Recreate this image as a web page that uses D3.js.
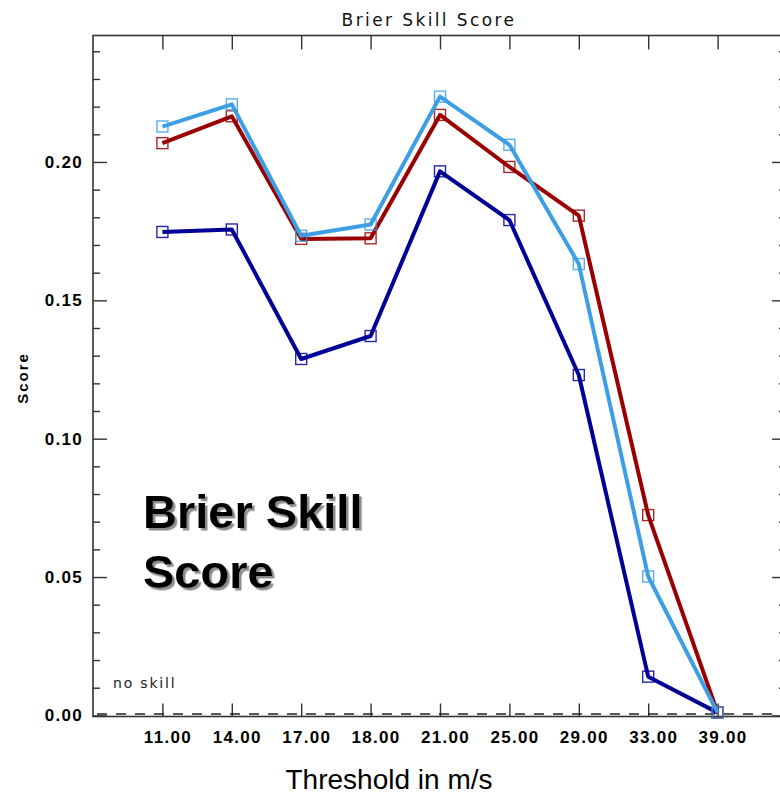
<!DOCTYPE html>
<html>
<head>
<meta charset="utf-8">
<script src="https://cdn.jsdelivr.net/npm/d3@7"></script>
<style>
  html, body { margin: 0; padding: 0; background: #fff; }
  svg { display: block; }
</style>
</head>
<body>
<svg id="chart" width="780" height="796">
  <defs>
    <filter id="shadow" x="-10%" y="-20%" width="130%" height="150%">
      <feDropShadow dx="2.5" dy="2.5" stdDeviation="0.6" flood-color="#8c8c8c" flood-opacity="1"/>
    </filter>
  </defs>
</svg>
<script>
// Wind-speed thresholds (m/s) shown along the x axis
const thresholds = ["11.00", "14.00", "17.00", "18.00", "21.00", "25.00", "29.00", "33.00", "39.00"];

// Brier Skill Score for each forecast system
const seriesNavy = [0.1747, 0.1756, 0.1288, 0.1371, 0.1966, 0.1790, 0.1230, 0.0140, 0.0010];
const seriesRed  = [0.2068, 0.2165, 0.1722, 0.1724, 0.2170, 0.1982, 0.1806, 0.0724, 0.0010];
const seriesSky  = [0.2128, 0.2208, 0.1733, 0.1774, 0.2236, 0.2062, 0.1631, 0.0502, 0.0010];

// Axis ticks
const yMajorTicks = [0.00, 0.05, 0.10, 0.15, 0.20];
const yMinorTicks = [0.01, 0.02, 0.03, 0.04, 0.06, 0.07, 0.08, 0.09, 0.11, 0.12, 0.13, 0.14,
                     0.16, 0.17, 0.18, 0.19, 0.21, 0.22, 0.23, 0.24];
const yRange = [-0.0004, 0.2457];

const series = [
  { name: "navy", values: seriesNavy, color: "#000096" },
  { name: "red",  values: seriesRed,  color: "#9a0000" },
  { name: "sky",  values: seriesSky,  color: "#3c9fe6" }
];

const svg = d3.select("#chart");
const box = { left: 93, right: 787, top: 35.5, bottom: 716.5 };

// x: category index 0..10, thresholds at 1..9
const x = d3.scaleLinear().domain([0, thresholds.length + 1]).range([box.left, box.right]);
const y = d3.scaleLinear().domain(yRange).range([box.bottom, box.top]);

const axisColor = "#333";
const tickFont = "'Liberation Sans', Arial, sans-serif";

// Plot frame
svg.append("rect")
  .attr("x", box.left).attr("y", box.top)
  .attr("width", box.right - box.left).attr("height", box.bottom - box.top)
  .attr("fill", "none").attr("stroke", axisColor).attr("stroke-width", 1.6);

// Left y axis (labels + major/minor ticks)
const yLeft = d3.axisLeft(y).tickValues(yMajorTicks).tickSize(-14).tickPadding(10)
  .tickFormat(d3.format(".2f"));
const gL = svg.append("g").attr("transform", `translate(${box.left},0)`).call(yLeft);
gL.select(".domain").remove();
gL.selectAll(".tick line").attr("stroke", axisColor).attr("stroke-width", 1.4);
gL.selectAll(".tick text")
  .attr("font-family", tickFont).attr("font-size", 17).attr("font-weight", "bold")
  .attr("letter-spacing", 1.3).attr("fill", "#000");

const yLeftMinor = d3.axisLeft(y).tickValues(yMinorTicks).tickSize(-7).tickFormat("");
const gLm = svg.append("g").attr("transform", `translate(${box.left},0)`).call(yLeftMinor);
gLm.select(".domain").remove();
gLm.selectAll(".tick line").attr("stroke", axisColor).attr("stroke-width", 1.4);

// Right y axis (ticks only)
const yRight = d3.axisRight(y).tickValues(yMajorTicks).tickSize(-15).tickFormat("");
const gR = svg.append("g").attr("transform", `translate(${box.right},0)`).call(yRight);
gR.select(".domain").remove();
gR.selectAll(".tick line").attr("stroke", axisColor).attr("stroke-width", 1.4);

const yRightMinor = d3.axisRight(y).tickValues(yMinorTicks).tickSize(-8).tickFormat("");
const gRm = svg.append("g").attr("transform", `translate(${box.right},0)`).call(yRightMinor);
gRm.select(".domain").remove();
gRm.selectAll(".tick line").attr("stroke", axisColor).attr("stroke-width", 1.4);

// Bottom x axis with threshold labels
const idx = thresholds.map((_, i) => i + 1);
const xBottom = d3.axisBottom(x).tickValues(idx).tickSize(-13).tickPadding(14)
  .tickFormat(i => thresholds[i - 1]);
const gB = svg.append("g").attr("transform", `translate(0,${box.bottom})`).call(xBottom);
gB.select(".domain").remove();
gB.selectAll(".tick line").attr("stroke", axisColor).attr("stroke-width", 1.4);
gB.selectAll(".tick text")
  .attr("font-family", tickFont).attr("font-size", 17).attr("font-weight", "bold")
  .attr("letter-spacing", 1.3).attr("fill", "#000").attr("dx", 5);

// Top x axis (ticks only)
const xTop = d3.axisTop(x).tickValues(idx).tickSize(-14).tickFormat("");
const gT = svg.append("g").attr("transform", `translate(0,${box.top})`).call(xTop);
gT.select(".domain").remove();
gT.selectAll(".tick line").attr("stroke", axisColor).attr("stroke-width", 1.4);

// Zero-skill reference line
svg.append("line")
  .attr("x1", box.left).attr("x2", box.right)
  .attr("y1", y(0) - 1.5).attr("y2", y(0) - 1.5)
  .attr("stroke", "#222").attr("stroke-width", 1.5)
  .attr("stroke-dasharray", "10,9").attr("stroke-dashoffset", -4);

svg.append("text")
  .attr("x", 113).attr("y", 688)
  .attr("font-family", "'DejaVu Sans', sans-serif").attr("font-size", 14)
  .attr("letter-spacing", 1.8).attr("fill", "#222")
  .text("no skill");

// Series lines and open square markers
const line = d3.line().x((d, i) => x(i + 1)).y(d => y(d));
series.forEach(s => {
  const g = svg.append("g").attr("class", "series-" + s.name);
  g.append("path")
    .attr("d", line(s.values))
    .attr("fill", "none").attr("stroke", s.color)
    .attr("stroke-width", 4).attr("stroke-linejoin", "round");
  g.selectAll("rect").data(s.values).join("rect")
    .attr("x", (d, i) => x(i + 1) - 5.5).attr("y", d => y(d) - 5.5)
    .attr("width", 11).attr("height", 11)
    .attr("fill", "none").attr("stroke", s.color).attr("stroke-width", 1.4)
    .attr("opacity", 0.85);
});

// Title
svg.append("text")
  .attr("x", 429).attr("y", 26).attr("text-anchor", "middle")
  .attr("font-family", "'DejaVu Sans', sans-serif").attr("font-size", 17)
  .attr("letter-spacing", 2.4).attr("fill", "#111")
  .text("Brier Skill Score");

// Y axis title
svg.append("text")
  .attr("transform", "translate(28,378) rotate(-90)")
  .attr("text-anchor", "middle")
  .attr("font-family", tickFont).attr("font-size", 15).attr("font-weight", "bold")
  .attr("letter-spacing", 2).attr("fill", "#000")
  .text("Score");

// X axis title
svg.append("text")
  .attr("x", 389).attr("y", 789).attr("text-anchor", "middle")
  .attr("font-family", tickFont).attr("font-size", 28).attr("fill", "#000")
  .text("Threshold in m/s");

// Large annotation with drop shadow
const note = ["Brier Skill", "Score"];
svg.append("text")
  .attr("font-family", tickFont).attr("font-size", 47).attr("font-weight", "bold")
  .attr("fill", "#000").attr("filter", "url(#shadow)")
  .selectAll("tspan").data(note).join("tspan")
  .attr("x", 143).attr("y", (d, i) => 528 + i * 60)
  .text(d => d);
</script>
</body>
</html>
